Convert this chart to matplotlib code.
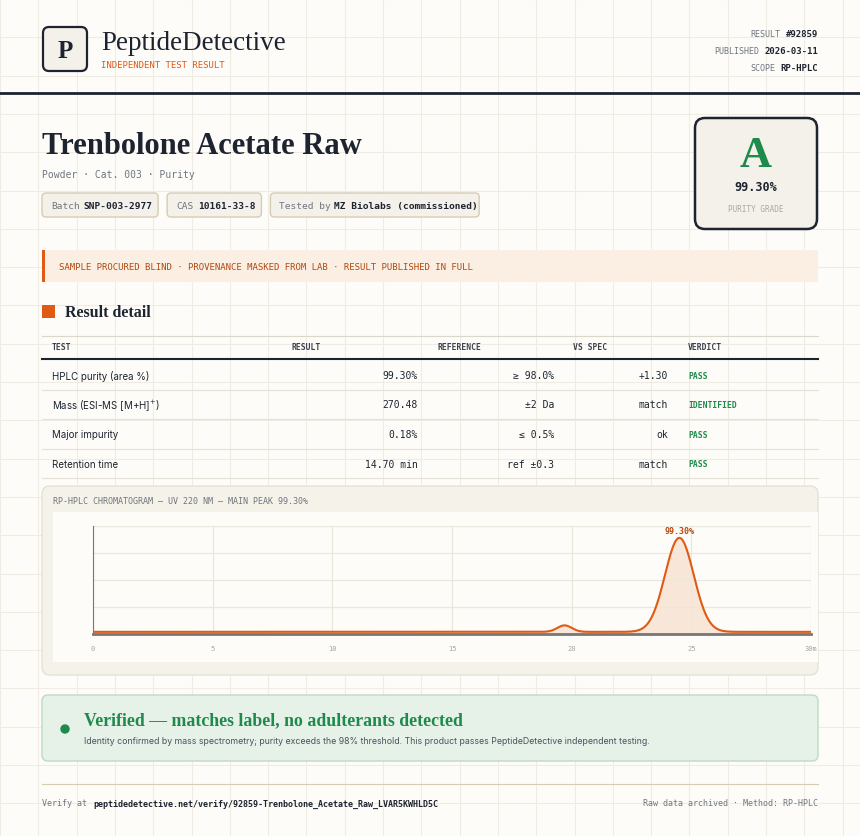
import matplotlib
matplotlib.use('Agg')
import matplotlib.pyplot as plt
from matplotlib.patches import FancyBboxPatch, Rectangle
import numpy as np

# ---- data ----
meta_keys = ['RESULT', 'PUBLISHED', 'SCOPE']
meta_vals = ['#92859', '2026-03-11', 'RP-HPLC']
chips = [('Batch', 'SNP-003-2977'), ('CAS', '10161-33-8'), ('Tested by', 'MZ Biolabs (commissioned)')]
col_heads = ['TEST', 'RESULT', 'REFERENCE', 'VS SPEC', 'VERDICT']
tests = ['HPLC purity (area %)', 'Mass (ESI-MS [M+H]$^{+}$)', 'Major impurity', 'Retention time']
results = ['99.30%', '270.48', '0.18%', '14.70 min']
references = ['\u2265 98.0%', '\u00b12 Da', '\u2264 0.5%', 'ref \u00b10.3']
vs_spec = ['+1.30', 'match', 'ok', 'match']
verdicts = ['PASS', 'IDENTIFIED', 'PASS', 'PASS']
peak_rt = [19.7, 24.5]
peak_height = [0.06, 0.87]
peak_sigma = [0.3, 0.6]
baseline = 0.02
x_ticks = [0, 5, 10, 15, 20, 25, 30]

INK = '#1d2430'
ORANGE = '#e05a14'
GREEN = '#1e8a4c'
MUTED = '#707680'
BG = '#fdfcf8'
MONO = 'DejaVu Sans Mono'
SERIF = 'Liberation Serif'
SANS = 'Inter'

fig = plt.figure(figsize=(8.6, 8.37), dpi=100, facecolor=BG)
ax = fig.add_axes([0, 0, 1, 1])
ax.set_xlim(0, 860)
ax.set_ylim(837, 0)
ax.axis('off')

# background grid
for gx in np.arange(0, 860, 38.3):
    ax.plot([gx, gx], [0, 837], color='#efece3', lw=0.8, zorder=0)
for gy in np.arange(0, 837, 38.3):
    ax.plot([0, 860], [gy, gy], color='#efece3', lw=0.8, zorder=0)

def rbox(x, y, w, h, fc, ec, lw=1, r=4, z=1):
    ax.add_patch(FancyBboxPatch((x, y), w, h, boxstyle=f'round,pad=0,rounding_size={r}',
                                fc=fc, ec=ec, lw=lw, zorder=z))

# header
rbox(43, 28, 44, 44, '#f4f1ea', INK, lw=1.6, r=6)
ax.text(65, 51, 'P', fontsize=18, family=SERIF, weight='bold', color=INK, ha='center', va='center')
ax.text(101, 43, 'PeptideDetective', fontsize=19.5, family=SERIF, color=INK, va='center')
ax.text(101, 65, 'INDEPENDENT TEST RESULT', fontsize=6.5, family=MONO, color=ORANGE, va='center')
for i, (k, v) in enumerate(zip(meta_keys, meta_vals)):
    ax.text(818, 34 + i * 17, v, fontsize=6.5, family=MONO, weight='bold', color=INK, ha='right', va='center')
    ax.text(818 - len(v) * 5.4 - 5, 34 + i * 17, k, fontsize=6, family=MONO, color=MUTED, ha='right', va='center')
ax.plot([0, 860], [94, 94], color=INK, lw=2)

# title
ax.text(42, 146, 'Trenbolone Acetate Raw', fontsize=22, family=SERIF, weight='bold', color=INK, va='center')
ax.text(42, 175, 'Powder \u00b7 Cat. 003 \u00b7 Purity', fontsize=7, family=MONO, color=MUTED, va='center')
cx = 42
for lab, val in chips:
    w = (len(lab) + len(val) + 1) * 5.45 + 18
    rbox(cx, 194, w, 24, '#f4f1ea', '#d6ccb4', lw=1, r=4)
    ax.text(cx + 9, 206, lab, fontsize=6.8, family=MONO, color=MUTED, va='center')
    ax.text(cx + 9 + (len(lab) + 1) * 5.45, 206, val, fontsize=6.8, family=MONO, weight='bold', color=INK, va='center')
    cx += w + 9

# grade box
rbox(695, 119, 122, 111, '#f4f1ea', INK, lw=1.8, r=10)
ax.text(756, 156, 'A', fontsize=32, family=SERIF, weight='bold', color=GREEN, ha='center', va='center')
ax.text(756, 187, '99.30%', fontsize=8.5, family=MONO, weight='bold', color=INK, ha='center', va='center')
ax.text(756, 209, 'PURITY GRADE', fontsize=5.5, family=MONO, color='#a8a8a8', ha='center', va='center')

# banner
ax.add_patch(Rectangle((42, 251), 776, 32, fc='#fbeee3', ec='none', zorder=1))
ax.add_patch(Rectangle((42, 251), 3, 32, fc=ORANGE, ec='none', zorder=2))
ax.text(59, 267, 'SAMPLE PROCURED BLIND \u00b7 PROVENANCE MASKED FROM LAB \u00b7 RESULT PUBLISHED IN FULL',
        fontsize=6.5, family=MONO, color='#b5470f', va='center')

# result detail
ax.add_patch(Rectangle((42, 306), 13, 13, fc=ORANGE, ec='none', zorder=2))
ax.text(65, 313, 'Result detail', fontsize=11.5, family=SERIF, weight='bold', color=INK, va='center')

col_x = [52, 292, 437, 573, 688]
ax.plot([42, 818], [337, 337], color='#dcd7cb', lw=0.8)
for hx, h in zip(col_x, col_heads):
    ax.text(hx, 347, h, fontsize=5.8, family=MONO, weight='bold', color='#3c4350', va='center')
ax.plot([42, 818], [360, 360], color=INK, lw=1.5)
for i in range(len(tests)):
    y = 376 + i * 29.5
    ax.text(52, y, tests[i], fontsize=7, family=SANS, color=INK, va='center')
    ax.text(418, y, results[i], fontsize=7, family=MONO, color=INK, ha='right', va='center')
    ax.text(554, y, references[i], fontsize=7, family=MONO, color=INK, ha='right', va='center')
    ax.text(668, y, vs_spec[i], fontsize=7, family=MONO, color=INK, ha='right', va='center')
    ax.text(688, y, verdicts[i], fontsize=5.8, family=MONO, weight='bold', color=GREEN, va='center')
    ax.plot([42, 818], [y + 14.5, y + 14.5], color='#e6e1d6', lw=0.8)

# chromatogram card
rbox(42, 487, 776, 189, '#f5f2ea', '#e6e1d6', lw=1, r=8)
ax.add_patch(Rectangle((53, 513), 765, 150, fc=BG, ec='none', zorder=2))
ax.text(53, 502, 'RP-HPLC CHROMATOGRAM \u2014 UV 220 NM \u2014 MAIN PEAK 99.30%',
        fontsize=6, family=MONO, color=MUTED, va='center')

W, H = 860, 837
cax = fig.add_axes([93 / W, 1 - 635 / H, (811 - 93) / W, (635 - 527) / H])
cax.set_facecolor('none')
t = np.linspace(0, 30, 1200)
sig = baseline + sum(h * np.exp(-0.5 * ((t - c) / s) ** 2) for c, h, s in zip(peak_rt, peak_height, peak_sigma))
cax.fill_between(t, 0, sig, color='#f8e7d8', lw=0, zorder=1)
cax.plot(t, sig, color=ORANGE, lw=1.5, zorder=3)
cax.text(peak_rt[1], 0.96, '99.30%', fontsize=6, family=MONO, weight='bold', color='#b5470f', ha='center', va='center')
cax.set_xlim(0, 30)
cax.set_ylim(0, 1)
cax.set_xticks(x_ticks)
cax.set_xticklabels([str(v) for v in x_ticks[:-1]] + ['30m'], fontsize=5, family=MONO, color='#a0a4aa')
cax.set_yticks([0.25, 0.5, 0.75, 1.0])
cax.set_yticklabels([])
cax.tick_params(length=0, pad=8)
cax.grid(True, color='#ebe7dc', lw=0.9, zorder=0)
for s in ['top', 'right']:
    cax.spines[s].set_visible(False)
cax.spines['left'].set_color('#777')
cax.spines['bottom'].set_color('#777')
cax.spines['bottom'].set_linewidth(2)

# verified box
rbox(42, 696, 776, 66, '#e6f1e8', '#bcdcc4', lw=1, r=6)
ax.add_patch(plt.Circle((65, 730), 4, color=GREEN, zorder=3))
ax.text(84, 721, 'Verified \u2014 matches label, no adulterants detected', fontsize=12.8, family=SERIF,
        weight='bold', color=GREEN, va='center')
ax.text(84, 742, 'Identity confirmed by mass spectrometry; purity exceeds the 98% threshold. '
        'This product passes PeptideDetective independent testing.', fontsize=6.3, family=SANS,
        color='#4a5260', va='center')

# footer
ax.plot([42, 818], [785, 785], color='#d6ccb4', lw=0.8)
ax.text(42, 804, 'Verify at ', fontsize=6, family=MONO, color=MUTED, va='center')
ax.text(93, 804, 'peptidedetective.net/verify/92859-Trenbolone_Acetate_Raw_LVAR5KWHLD5C', fontsize=6,
        family=MONO, weight='bold', color=INK, va='center')
ax.text(818, 804, 'Raw data archived \u00b7 Method: RP-HPLC', fontsize=6, family=MONO, color=MUTED,
        ha='right', va='center')

fig.savefig('out.png', dpi=100, facecolor=BG)
